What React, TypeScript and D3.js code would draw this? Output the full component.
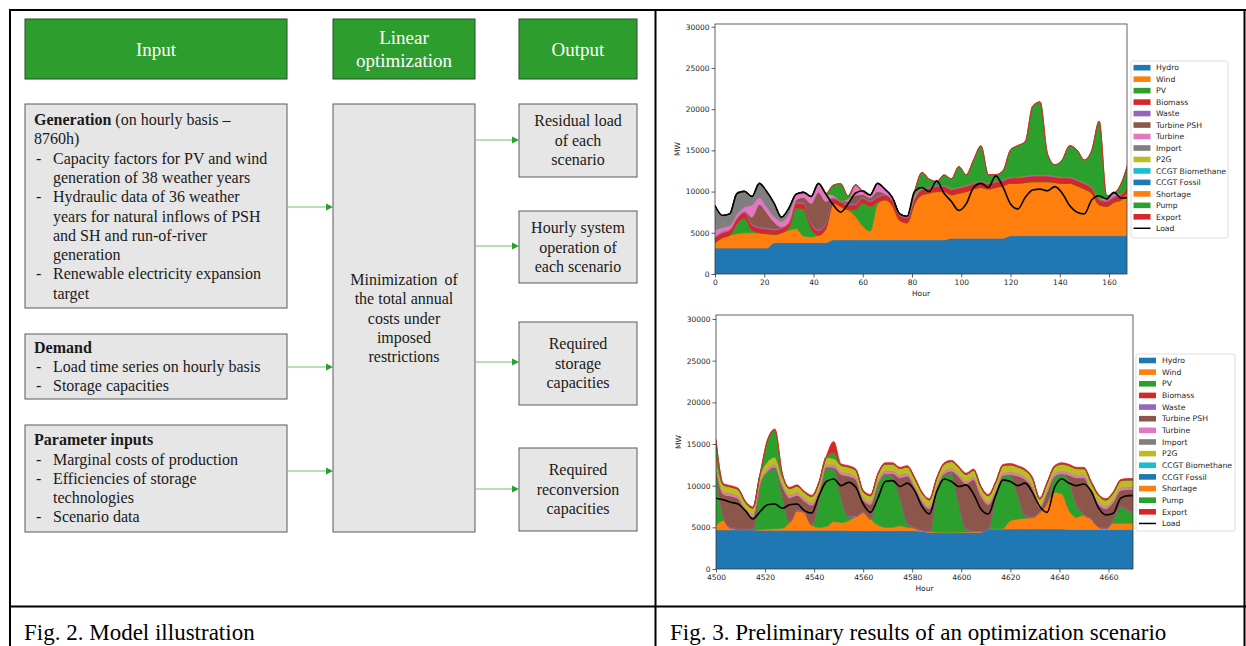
import React, { useEffect, useRef } from 'react';
import * as d3 from 'd3';

// stack order = legend order
const seriesNames = ['Hydro', 'Wind', 'PV', 'Biomass', 'Waste', 'Turbine PSH', 'Turbine', 'Import', 'P2G', 'CCGT Biomethane', 'CCGT Fossil', 'Shortage', 'Pump', 'Export'];
const seriesColors = ['#1f77b4', '#ff7f0e', '#2ca02c', '#d62728', '#9467bd', '#8c564b', '#e377c2', '#7f7f7f', '#bcbd22', '#17becf', '#1f77b4', '#ff7f0e', '#2ca02c', '#d62728'];

const hourStep = 3;
const yTicks = [0, 5000, 10000, 15000, 20000, 25000, 30000];

// ---- Fig. 3 upper panel, hours 0..168 every 3 h ----
const topStart = 0;
const topXTicks = [0, 20, 40, 60, 80, 100, 120, 140, 160];
const topHydro = [3150, 3150, 3150, 3150, 3150, 3150, 3150, 3150, 3800, 3800, 3800, 3800, 3800, 3800, 3800, 3800, 4150, 4150, 4150, 4150, 4150, 4150, 4150, 4150, 4150, 4150, 4150, 4150, 4150, 4150, 4150, 4150, 4350, 4350, 4350, 4350, 4350, 4350, 4350, 4350, 4650, 4650, 4650, 4650, 4650, 4650, 4650, 4650, 4650, 4650, 4650, 4650, 4650, 4650, 4650, 4650, 4650];
const topWind = [650, 1250, 1550, 1750, 1850, 1850, 1850, 1750, 1000, 1200, 1500, 1700, 800, 700, 900, 1700, 4450, 4050, 3650, 2850, 1650, 1050, 4350, 4850, 4150, 2350, 2050, 4350, 5450, 5650, 5850, 5850, 5250, 5450, 5650, 5950, 6150, 5950, 6150, 6350, 6350, 6350, 6450, 6550, 6550, 6550, 6450, 6350, 6350, 6050, 5650, 5150, 3750, 3550, 4050, 4350, 5850];
const topPV = [0, 0, 0, 1200, 1800, 300, 0, 0, 0, 0, 300, 2500, 3300, 1000, 0, 0, 0, 0, 0, 800, 2800, 3000, 200, 0, 0, 0, 0, 0, 0, 0, 0, 0, 0, 0, 0, 0, 0, 0, 0, 0, 0, 0, 0, 0, 0, 0, 0, 0, 0, 0, 0, 0, 0, 0, 0, 0, 0];
const topBiomass = [600, 600, 620, 640, 650, 640, 600, 580, 550, 550, 560, 600, 620, 600, 560, 560, 560, 560, 580, 600, 600, 600, 600, 600, 600, 620, 600, 600, 620, 620, 620, 620, 640, 640, 640, 650, 650, 650, 650, 660, 660, 680, 680, 680, 680, 680, 660, 660, 660, 640, 640, 620, 620, 600, 600, 620, 620];
const topWaste = [150, 150, 150, 150, 150, 150, 150, 150, 150, 150, 150, 150, 150, 150, 150, 150, 150, 150, 150, 150, 150, 150, 150, 150, 150, 150, 150, 150, 150, 150, 150, 150, 150, 150, 150, 150, 150, 150, 150, 150, 150, 150, 150, 150, 150, 150, 150, 150, 150, 150, 150, 150, 150, 150, 150, 150, 150];
const topPSH = [0, 0, 0, 0, 0, 800, 2700, 1800, 800, 0, 0, 250, 600, 2300, 4500, 2600, 0, 0, 300, 1000, 300, 300, 550, 0, 0, 0, 0, 0, 0, 0, 0, 0, 0, 0, 0, 0, 0, 0, 0, 0, 0, 0, 0, 0, 0, 0, 0, 0, 0, 0, 0, 0, 0, 0, 0, 0, 0];
const topTurbine = [800, 500, 400, 400, 500, 1500, 800, 700, 700, 700, 1000, 700, 650, 850, 1050, 950, 300, 0, 300, 1250, 350, 350, 1000, 550, 250, 50, 50, 300, 0, 0, 0, 0, 0, 0, 0, 0, 0, 0, 0, 0, 0, 0, 0, 0, 0, 0, 0, 0, 0, 0, 0, 0, 0, 300, 350, 0, 0];
const topImport = [2950, 1450, 1450, 2550, 1950, 1050, 1750, 1850, 1550, 450, 650, 0, 0, 0, 0, 0, 0, 0, 0, 0, 0, 0, 0, 0, 0, 0, 0, 0, 0, 0, 0, 0, 0, 0, 0, 0, 0, 0, 0, 0, 0, 0, 0, 0, 0, 0, 0, 0, 0, 0, 0, 0, 0, 0, 0, 0, 0];
const topPump = [0, 0, 0, 0, 0, 0, 0, 0, 0, 0, 0, 0, 0, 0, 0, 0, 1150, 2050, 350, 0, 0, 0, 0, 0, 0, 0, 0, 450, 1950, 950, 450, 1250, 1150, 2450, 1250, 2750, 4250, 950, 750, 1050, 3250, 3750, 4150, 8350, 8850, 2550, 1350, 2050, 3750, 3550, 2750, 4450, 9350, 250, 0, 1250, 2450];
const topLoad = [8300, 7100, 7300, 9800, 10000, 9400, 11000, 10000, 8600, 6900, 8000, 9700, 9900, 9400, 11000, 9700, 8400, 7500, 8500, 9800, 10100, 9600, 11000, 10300, 9300, 7300, 7000, 10000, 10500, 10000, 11300, 9800, 8800, 7700, 8500, 10500, 11000, 10500, 11900, 10500, 8500, 7900, 9300, 10200, 10300, 10100, 10600, 9800, 8300, 7500, 7300, 9000, 9500, 9100, 9900, 9200, 9300];

// ---- Fig. 3 lower panel, hours 4500..4671 every 3 h ----
const bottomStart = 4500;
const bottomXTicks = [4500, 4520, 4540, 4560, 4580, 4600, 4620, 4640, 4660];
const bottomHydro = [4700, 4700, 4700, 4700, 4700, 4700, 4650, 4650, 4650, 4650, 4650, 4650, 4650, 4650, 4650, 4650, 4650, 4650, 4600, 4600, 4600, 4600, 4600, 4600, 4600, 4600, 4600, 4600, 4500, 4400, 4400, 4350, 4350, 4400, 4400, 4400, 4400, 4800, 4800, 4800, 4800, 4800, 4800, 4800, 4800, 4800, 4800, 4800, 4750, 4750, 4750, 4750, 4750, 4750, 4750, 4750, 4750, 4750];
const bottomWind = [600, 1100, 200, 100, 100, 50, 100, 150, 200, 250, 950, 2350, 2150, 650, 350, 450, 1050, 950, 1200, 1700, 2200, 1400, 700, 400, 400, 600, 400, 300, 100, 100, 50, 50, 50, 50, 50, 100, 100, 50, 50, 100, 1000, 1200, 1300, 1400, 2000, 3200, 4400, 4200, 2250, 1450, 1750, 1250, 250, 100, 750, 750, 750, 750];
const bottomPV = [6850, 500, 0, 0, 0, 0, 5400, 6850, 7300, 4000, 0, 0, 0, 0, 3500, 7050, 6400, 3000, 500, 0, 0, 0, 4850, 6350, 6000, 3500, 500, 0, 0, 0, 5200, 6950, 7050, 3500, 300, 0, 0, 0, 4300, 6250, 5450, 3000, 300, 0, 0, 0, 1850, 2350, 3500, 1500, 0, 0, 0, 0, 500, 2000, 1500, 1200];
const bottomWaste = [100, 100, 100, 100, 100, 100, 100, 100, 100, 100, 100, 100, 100, 100, 100, 100, 100, 100, 100, 100, 100, 100, 100, 100, 100, 100, 100, 100, 100, 100, 100, 100, 100, 100, 100, 100, 100, 100, 100, 100, 100, 100, 100, 100, 100, 100, 100, 100, 100, 100, 100, 100, 100, 100, 100, 100, 100, 100];
const bottomPSH = [0, 2550, 3750, 3550, 2050, 1400, 0, 0, 0, 950, 2850, 1750, 1250, 2250, 650, 0, 0, 2650, 4750, 4350, 1350, 1650, 0, 0, 350, 2150, 5550, 4750, 3350, 2650, 0, 0, 200, 3000, 5400, 6150, 4150, 2800, 0, 0, 0, 2050, 4250, 3450, 450, 1150, 0, 0, 650, 3150, 4350, 3150, 2650, 2300, 1950, 1850, 2450, 2750];
const bottomTurbine = [300, 300, 300, 300, 300, 300, 300, 300, 300, 300, 300, 300, 300, 300, 300, 300, 300, 300, 300, 300, 300, 300, 300, 300, 300, 300, 300, 300, 300, 300, 300, 300, 300, 300, 300, 300, 300, 300, 300, 300, 300, 300, 300, 300, 300, 300, 300, 300, 300, 300, 300, 300, 300, 300, 300, 300, 300, 300];
const bottomP2G = [800, 850, 800, 800, 750, 750, 800, 850, 900, 850, 800, 800, 750, 750, 800, 850, 800, 800, 800, 800, 750, 750, 800, 850, 850, 800, 800, 800, 750, 750, 800, 850, 850, 800, 800, 800, 750, 750, 800, 850, 850, 800, 800, 800, 750, 750, 800, 850, 850, 800, 800, 800, 750, 750, 800, 850, 850, 850];
const bottomPump = [2000, 0, 0, 0, 0, 0, 0, 2500, 3200, 300, 0, 0, 0, 0, 0, 0, 700, 0, 0, 0, 0, 0, 0, 0, 0, 0, 0, 0, 0, 0, 0, 0, 0, 0, 0, 0, 0, 0, 0, 0, 0, 0, 0, 0, 0, 0, 0, 0, 0, 0, 0, 0, 0, 0, 0, 0, 0, 0];
const bottomExport = [200, 150, 150, 150, 150, 150, 150, 150, 150, 150, 150, 150, 150, 150, 150, 150, 1300, 150, 150, 150, 150, 150, 150, 150, 150, 150, 150, 150, 150, 150, 150, 150, 150, 150, 150, 150, 150, 150, 150, 150, 150, 150, 150, 150, 150, 150, 150, 150, 150, 150, 150, 150, 150, 150, 150, 150, 150, 150];
const bottomLoad = [8500, 8300, 8000, 7800, 7000, 6000, 6900, 7700, 7800, 7300, 7700, 7800, 7000, 6700, 8800, 10500, 10800, 10000, 10400, 9800, 7800, 6800, 8500, 10500, 10600, 9900, 10300, 9400, 7500, 6600, 9300, 10800, 10500, 9900, 10100, 9000, 7200, 6600, 8800, 10700, 10500, 10000, 10300, 9200, 7500, 6800, 9800, 10800, 10300, 10000, 10200, 9300, 7300, 6500, 6700, 8500, 8800, 8800];

type Legend = { x: number; y: number; w: number; h: number; row0: number; gap: number; patchX: number; textX: number };
type Panel = {
  id: string; start: number; xMax: number; yMax: number; xTicks: number[];
  values: Record<string, number[]>; load: number[];
  left: number; right: number; top: number; bottom: number; legend: Legend;
};

const topPanel: Panel = {
  id: 'upper', start: topStart, xMax: 167.3, yMax: 30330, xTicks: topXTicks,
  values: { Hydro: topHydro, Wind: topWind, PV: topPV, Biomass: topBiomass, Waste: topWaste, 'Turbine PSH': topPSH, Turbine: topTurbine, Import: topImport, Pump: topPump },
  load: topLoad,
  left: 715, right: 1127, top: 24, bottom: 274,
  legend: { x: 1131, y: 61, w: 97, h: 177, row0: 67.7, gap: 11.47, patchX: 1133.5, textX: 1156 },
};

const bottomPanel: Panel = {
  id: 'lower', start: bottomStart, xMax: 4670, yMax: 30480, xTicks: bottomXTicks,
  values: { Hydro: bottomHydro, Wind: bottomWind, PV: bottomPV, Waste: bottomWaste, 'Turbine PSH': bottomPSH, Turbine: bottomTurbine, P2G: bottomP2G, Pump: bottomPump, Export: bottomExport },
  load: bottomLoad,
  left: 716, right: 1133, top: 315, bottom: 569,
  legend: { x: 1136, y: 354, w: 99, h: 177, row0: 360.5, gap: 11.64, patchX: 1139, textX: 1162 },
};

const SANS = 'DejaVu Sans, sans-serif';
const SERIF = 'Liberation Serif, Times New Roman, serif';

const StackPanel = ({ panel }: { panel: Panel }) => {
  const ref = useRef<SVGGElement>(null);

  useEffect(() => {
    if (!ref.current) return;
    const g = d3.select(ref.current);
    g.selectAll('*').remove();

    const rows = panel.load.map((load, i) => {
      const r: any = { hour: panel.start + i * hourStep, Load: load };
      seriesNames.forEach(n => { r[n] = panel.values[n] ? panel.values[n][i] : 0; });
      return r;
    });

    const x = d3.scaleLinear().domain([panel.start, panel.xMax]).range([panel.left, panel.right]);
    const y = d3.scaleLinear().domain([0, panel.yMax]).range([panel.bottom, panel.top]);

    const layers = d3.stack<any>().keys(seriesNames)(rows);
    const area = d3.area<any>()
      .x(d => x(d.data.hour))
      .y0(d => y(d[0]))
      .y1(d => y(d[1]))
      .curve(d3.curveMonotoneX);

    const clipId = `clip-${panel.id}`;
    g.append('clipPath').attr('id', clipId)
      .append('rect')
      .attr('x', panel.left).attr('y', panel.top)
      .attr('width', panel.right - panel.left).attr('height', panel.bottom - panel.top);

    const plot = g.append('g').attr('clip-path', `url(#${clipId})`);
    plot.selectAll('path.layer')
      .data(layers)
      .join('path')
      .attr('class', 'layer')
      .attr('d', area as any)
      .attr('fill', (d, i) => seriesColors[i])
      .attr('stroke', (d, i) => seriesColors[i])
      .attr('stroke-width', 0.8)
      .attr('stroke-linejoin', 'round');

    const line = d3.line<any>().x(d => x(d.hour)).y(d => y(d.Load)).curve(d3.curveMonotoneX);
    plot.append('path').datum(rows).attr('d', line)
      .attr('fill', 'none').attr('stroke', '#000').attr('stroke-width', 1.6);

    // frame
    g.append('rect')
      .attr('x', panel.left).attr('y', panel.top)
      .attr('width', panel.right - panel.left).attr('height', panel.bottom - panel.top)
      .attr('fill', 'none').attr('stroke', '#3a3a3a').attr('stroke-width', 0.8);

    const styleAxis = (ax: any) => {
      ax.select('.domain').remove();
      ax.selectAll('line').attr('stroke', '#333').attr('stroke-width', 0.8);
      ax.selectAll('text').attr('font-size', 7.5).attr('font-family', SANS).attr('fill', '#262626');
    };

    const ax = g.append('g').attr('transform', `translate(0,${panel.bottom})`)
      .call(d3.axisBottom(x).tickValues(panel.xTicks).tickSize(3.5).tickPadding(2).tickFormat(d3.format('d')) as any);
    styleAxis(ax);
    const ay = g.append('g').attr('transform', `translate(${panel.left},0)`)
      .call(d3.axisLeft(y).tickValues(yTicks).tickSize(3.5).tickPadding(2).tickFormat(d3.format('d')) as any);
    styleAxis(ay);

    g.append('text')
      .attr('x', (panel.left + panel.right) / 2).attr('y', panel.bottom + 22)
      .attr('text-anchor', 'middle').attr('font-size', 7.5).attr('font-family', SANS).attr('fill', '#262626')
      .text('Hour');
    g.append('text')
      .attr('transform', `translate(${panel.left - 35},${(panel.top + panel.bottom) / 2}) rotate(-90)`)
      .attr('text-anchor', 'middle').attr('font-size', 7.5).attr('font-family', SANS).attr('fill', '#262626')
      .text('MW');

    // legend
    const L = panel.legend;
    const lg = g.append('g');
    lg.append('rect')
      .attr('x', L.x).attr('y', L.y).attr('width', L.w).attr('height', L.h).attr('rx', 2)
      .attr('fill', '#fff').attr('fill-opacity', 0.8).attr('stroke', '#d6d6d6').attr('stroke-width', 0.8);
    seriesNames.forEach((name, i) => {
      const cy = L.row0 + i * L.gap;
      lg.append('rect').attr('x', L.patchX).attr('y', cy - 2.8).attr('width', 17).attr('height', 5.6).attr('fill', seriesColors[i]);
      lg.append('text').attr('x', L.textX).attr('y', cy + 2.7)
        .attr('font-size', 7.7).attr('font-family', SANS).attr('fill', '#262626').text(name);
    });
    const cyLoad = L.row0 + seriesNames.length * L.gap;
    lg.append('line').attr('x1', L.patchX).attr('x2', L.patchX + 17).attr('y1', cyLoad).attr('y2', cyLoad)
      .attr('stroke', '#000').attr('stroke-width', 1.5);
    lg.append('text').attr('x', L.textX).attr('y', cyLoad + 2.7)
      .attr('font-size', 7.7).attr('font-family', SANS).attr('fill', '#262626').text('Load');
  }, [panel]);

  return <g ref={ref} />;
};

const GreenBox = ({ x, y, w, h }: { x: number; y: number; w: number; h: number }) => (
  <rect x={x} y={y} width={w} height={h} fill="#2d9e2d" stroke="#2b4a2b" strokeWidth={1} />
);
const GreyBox = ({ x, y, w, h }: { x: number; y: number; w: number; h: number }) => (
  <rect x={x} y={y} width={w} height={h} fill="#e6e6e6" stroke="#5a5a5a" strokeWidth={1} />
);
const Arrow = ({ x1, x2, y }: { x1: number; x2: number; y: number }) => (
  <g>
    <line x1={x1} x2={x2 - 6} y1={y} y2={y} stroke="#6cc46c" strokeWidth={1.2} />
    <path d={`M${x2},${y} L${x2 - 7},${y - 3.5} L${x2 - 7},${y + 3.5} Z`} fill="#2ca02c" />
  </g>
);

const Diagram = () => {
  const t = { fontFamily: SERIF, fontSize: 16, fill: '#1a1a1a' } as const;
  const head = { fontFamily: SERIF, fontSize: 19, fill: '#fff', textAnchor: 'middle' } as const;
  const mid = { ...t, textAnchor: 'middle' } as const;
  return (
    <g>
      <GreenBox x={25} y={19} w={262} h={60} />
      <text x={156} y={56} style={head}>Input</text>
      <GreenBox x={333} y={19} w={142} h={60} />
      <text x={404} y={44} style={head}>Linear</text>
      <text x={404} y={67} style={head}>optimization</text>
      <GreenBox x={519} y={19} w={118} h={60} />
      <text x={578} y={56} style={head}>Output</text>

      <GreyBox x={25} y={104} w={262} h={204} />
      <text x={34} y={125} style={t}><tspan fontWeight="bold">Generation</tspan> (on hourly basis –</text>
      <text x={34} y={144} style={t}>8760h)</text>
      <text x={36} y={164} style={t}>-</text>
      <text x={53} y={164} style={t}>Capacity factors for PV and wind</text>
      <text x={53} y={183} style={t}>generation of 38 weather years</text>
      <text x={36} y={202} style={t}>-</text>
      <text x={53} y={202} style={t}>Hydraulic data of 36 weather</text>
      <text x={53} y={222} style={t}>years for natural inflows of PSH</text>
      <text x={53} y={241} style={t}>and SH and run-of-river</text>
      <text x={53} y={260} style={t}>generation</text>
      <text x={36} y={279} style={t}>-</text>
      <text x={53} y={279} style={t}>Renewable electricity expansion</text>
      <text x={53} y={299} style={t}>target</text>

      <GreyBox x={25} y={334} w={262} h={65} />
      <text x={34} y={353} style={t} fontWeight="bold">Demand</text>
      <text x={36} y={372} style={t}>-</text>
      <text x={53} y={372} style={t}>Load time series on hourly basis</text>
      <text x={36} y={391} style={t}>-</text>
      <text x={53} y={391} style={t}>Storage capacities</text>

      <GreyBox x={25} y={425} w={262} h={107} />
      <text x={34} y={445} style={t} fontWeight="bold">Parameter inputs</text>
      <text x={36} y={465} style={t}>-</text>
      <text x={53} y={465} style={t}>Marginal costs of production</text>
      <text x={36} y={484} style={t}>-</text>
      <text x={53} y={484} style={t}>Efficiencies of storage</text>
      <text x={53} y={503} style={t}>technologies</text>
      <text x={36} y={522} style={t}>-</text>
      <text x={53} y={522} style={t}>Scenario data</text>

      <GreyBox x={333} y={104} w={142} h={428} />
      <text x={404} y={285} style={mid} wordSpacing={3}>Minimization of</text>
      <text x={404} y={304} style={mid}>the total annual</text>
      <text x={404} y={324} style={mid}>costs under</text>
      <text x={404} y={343} style={mid}>imposed</text>
      <text x={404} y={362} style={mid}>restrictions</text>

      <GreyBox x={519} y={104} w={118} h={73} />
      <text x={578} y={126} style={mid}>Residual load</text>
      <text x={578} y={146} style={mid}>of each</text>
      <text x={578} y={165} style={mid}>scenario</text>

      <GreyBox x={519} y={211} w={118} h={72} />
      <text x={578} y={233} style={mid}>Hourly system</text>
      <text x={578} y={253} style={mid}>operation of</text>
      <text x={578} y={272} style={mid}>each scenario</text>

      <GreyBox x={519} y={322} w={118} h={83} />
      <text x={578} y={349} style={mid}>Required</text>
      <text x={578} y={369} style={mid}>storage</text>
      <text x={578} y={388} style={mid}>capacities</text>

      <GreyBox x={519} y={448} w={118} h={83} />
      <text x={578} y={475} style={mid}>Required</text>
      <text x={578} y={495} style={mid}>reconversion</text>
      <text x={578} y={514} style={mid}>capacities</text>

      <Arrow x1={287} x2={333} y={207} />
      <Arrow x1={287} x2={333} y={367} />
      <Arrow x1={287} x2={333} y={471} />
      <Arrow x1={475} x2={519} y={140} />
      <Arrow x1={475} x2={519} y={246} />
      <Arrow x1={475} x2={519} y={362} />
      <Arrow x1={475} x2={519} y={489} />
    </g>
  );
};

export default function App() {
  return (
    <svg width={1246} height={646} style={{ position: 'absolute', left: 0, top: 0, background: '#fff' }}>
      <rect x={0} y={0} width={1246} height={646} fill="#fff" />
      <Diagram />
      <StackPanel panel={topPanel} />
      <StackPanel panel={bottomPanel} />

      {/* table frame */}
      <g stroke="#000" strokeWidth={2}>
        <line x1={9} x2={1246} y1={10} y2={10} />
        <line x1={10} x2={10} y1={9} y2={646} />
        <line x1={655.5} x2={655.5} y1={9} y2={646} />
        <line x1={1244.5} x2={1244.5} y1={9} y2={646} />
        <line x1={9} x2={1246} y1={606.5} y2={606.5} />
      </g>
      <text x={24} y={640} fontFamily={SERIF} fontSize={23} fill="#000">Fig. 2. Model illustration</text>
      <text x={670} y={640} fontFamily={SERIF} fontSize={23} fill="#000">Fig. 3. Preliminary results of an optimization scenario</text>
    </svg>
  );
}
